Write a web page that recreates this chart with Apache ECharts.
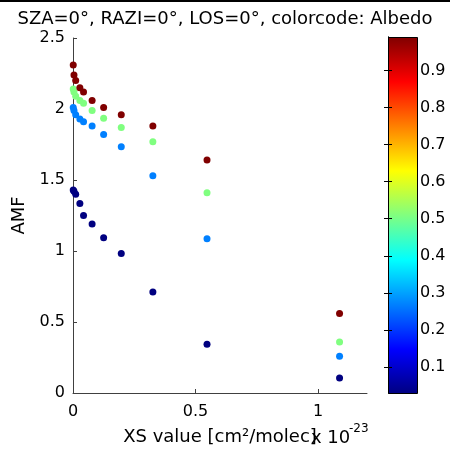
<!DOCTYPE html>
<html><head><meta charset="utf-8">
<script src="https://cdn.jsdelivr.net/npm/echarts@6/dist/echarts.min.js"></script>
<style>html,body{margin:0;padding:0;background:#fff}#c{width:450px;height:453px}</style>
</head><body><div id="c"></div>
<script>
// XS values (x 1e-23 cm^2/molec)
const xsValues = [0.001, 0.004, 0.011, 0.028, 0.043, 0.078, 0.125, 0.197, 0.326, 0.547, 1.088];
// albedo of each series
const albedoValues = [0.03, 0.27, 0.51, 0.99];
// AMF per albedo
const amfAlbedo003 = [1.43, 1.42, 1.40, 1.335, 1.25, 1.19, 1.094, 0.982, 0.711, 0.343, 0.106];
const amfAlbedo027 = [2.01, 1.99, 1.96, 1.93, 1.91, 1.88, 1.82, 1.735, 1.53, 1.087, 0.258];
const amfAlbedo051 = [2.14, 2.12, 2.09, 2.06, 2.04, 1.99, 1.935, 1.87, 1.77, 1.41, 0.36];
const amfAlbedo099 = [2.31, 2.24, 2.20, 2.15, 2.12, 2.06, 2.01, 1.96, 1.88, 1.64, 0.56];
const xTicks = [0, 0.5, 1];
const cbTicks = [0.1, 0.2, 0.3, 0.4, 0.5, 0.6, 0.7, 0.8, 0.9];
const titleText = 'SZA=0°, RAZI=0°, LOS=0°, colorcode: Albedo';

const allAmf = [amfAlbedo003, amfAlbedo027, amfAlbedo051, amfAlbedo099];
const data = [];
allAmf.forEach((arr, i) => arr.forEach((v, j) => data.push([xsValues[j], v, albedoValues[i]])));

const FONT = "'DejaVu Sans', sans-serif";
const jet = ['#000080','#0000FF','#0080FF','#00FFFF','#80FF80','#FFFF00','#FF8000','#FF0000','#800000'];
const axisCol = '#404040';

const chart = echarts.init(document.getElementById('c'), null, {renderer: 'canvas'});
chart.setOption({
  animation: false,
  backgroundColor: '#fff',
  textStyle: {fontFamily: FONT},
  title: {
    text: titleText, left: 'center', top: 5,
    textStyle: {fontFamily: FONT, fontSize: 18, fontWeight: 'normal', color: '#000'}
  },
  grid: [
    {left: 73, top: 38, width: 294, height: 355},
    {left: 388, top: 37, width: 29, height: 356}
  ],
  xAxis: [{
    type: 'value', gridIndex: 0, min: 0, max: 1.2,
    name: 'XS value [cm²/molec]', nameLocation: 'middle', nameGap: 35,
    nameTextStyle: {fontFamily: FONT, fontSize: 18, color: '#000'},
    axisLine: {lineStyle: {color: axisCol}},
    axisTick: {inside: true, length: 4, customValues: xTicks, lineStyle: {color: axisCol}},
    axisLabel: {customValues: xTicks, fontFamily: FONT, fontSize: 16, color: '#000', margin: 11},
    splitLine: {show: false}
  }, {
    type: 'value', gridIndex: 1, min: 0, max: 1, show: false
  }],
  yAxis: [{
    type: 'value', gridIndex: 0, min: 0, max: 2.5, interval: 0.5,
    name: 'AMF', nameLocation: 'middle', nameGap: 43,
    nameTextStyle: {fontFamily: FONT, fontSize: 18, color: '#000'},
    axisLine: {show: true, lineStyle: {color: axisCol}},
    axisTick: {show: true, inside: true, length: 4, lineStyle: {color: axisCol}},
    axisLabel: {fontFamily: FONT, fontSize: 16, color: '#000', margin: 8},
    splitLine: {show: false}
  }, {
    type: 'value', gridIndex: 1, min: 0.03, max: 0.99, position: 'right', z: 10,
    axisLine: {show: true, lineStyle: {color: '#000'}},
    axisTick: {show: true, inside: true, length: 4, customValues: cbTicks, lineStyle: {color: '#000'}},
    axisLabel: {customValues: cbTicks, fontFamily: FONT, fontSize: 16, color: '#000', margin: 3},
    splitLine: {show: false}
  }, {
    type: 'value', gridIndex: 1, min: 0.03, max: 0.99, position: 'left', z: 10,
    axisLine: {show: true, lineStyle: {color: '#000'}},
    axisTick: {show: true, inside: true, length: 4, customValues: cbTicks, lineStyle: {color: '#000'}},
    axisLabel: {show: false},
    splitLine: {show: false}
  }],
  visualMap: {
    type: 'continuous', show: false, min: 0.03, max: 0.99, dimension: 2, seriesIndex: 0,
    inRange: {color: jet}
  },
  graphic: [
    {type: 'rect', left: 0, top: 0, shape: {width: 450, height: 2}, style: {fill: '#000'}},
    {type: 'rect', left: 388, top: 37, z: 1, shape: {width: 29, height: 356},
      style: {
        fill: new echarts.graphic.LinearGradient(0, 1, 0, 0,
          jet.map((c, i) => ({offset: i / (jet.length - 1), color: c}))),
        stroke: '#000', lineWidth: 1
      }},
    {type: 'text', left: 311, top: 429, z: 100, style: {text: 'x 10', font: '18px ' + FONT, fill: '#000'}},
    {type: 'text', left: 349, top: 423, z: 100, style: {text: '-23', font: '12px ' + FONT, fill: '#000'}}
  ],
  series: [{
    type: 'scatter', xAxisIndex: 0, yAxisIndex: 0,
    symbol: 'circle', symbolSize: 7,
    itemStyle: {opacity: 1},
    data: data
  }]
});
</script></body></html>
